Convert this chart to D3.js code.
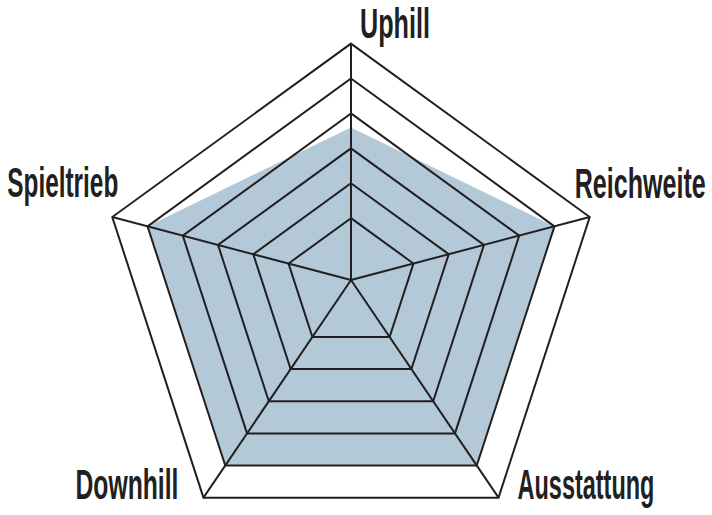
<!DOCTYPE html>
<html>
<head>
<meta charset="utf-8">
<script src="https://cdn.jsdelivr.net/npm/d3@7"></script>
<style>
  html, body { margin: 0; padding: 0; background: #fff; }
  svg { display: block; }
</style>
</head>
<body>
<svg id="chart" width="712" height="515"></svg>
<script>
// ---- data ----
const categories = ["Uphill", "Reichweite", "Ausstattung", "Downhill", "Spieltrieb"];
const values = [3.6, 5, 5, 5, 5];
const levels = [1, 2, 3, 4, 5, 6];

// ---- layout ----
const W = 712, H = 515;
const cx = 351, cy = 294.6, R = 251;   // outer pentagon
const hubY = 280;                      // where the spokes meet
const ink = "#231f20";
const fillColor = "#b3c9d8";

// label placement relative to each outer vertex
const labelLayout = [
  { anchor: "start", dx: 9,   dy: -6,  len: 70 },
  { anchor: "start", dx: -15, dy: -19, len: 131 },
  { anchor: "start", dx: 19,  dy: 1,   len: 137 },
  { anchor: "end",   dx: -25, dy: 1,   len: 103 },
  { anchor: "end",   dx: 6,   dy: -20, len: 111 }
];

const svg = d3.select("#chart");

// angle of each axis (regular pentagon, first axis pointing up)
const angle = d3.scaleLinear().domain([0, categories.length]).range([0, 2 * Math.PI]);
const outer = categories.map((c, i) => ({
  x: cx + R * Math.sin(angle(i)),
  y: cy - R * Math.cos(angle(i))
}));
const hub = { x: cx, y: hubY };

// radial fraction along each spoke (hub -> outer vertex)
const t = d3.scaleLinear().domain([0, d3.max(levels)]).range([0.114, 1]);

function pointAt(i, v) {
  const f = t(v);
  return [hub.x + f * (outer[i].x - hub.x), hub.y + f * (outer[i].y - hub.y)];
}

const line = d3.line().curve(d3.curveLinearClosed);

// filled data polygon
svg.append("path")
  .attr("d", line(values.map((v, i) => pointAt(i, v))))
  .attr("fill", fillColor)
  .attr("stroke", "none");

// grid rings
svg.append("g").selectAll("path")
  .data(levels)
  .join("path")
  .attr("d", lv => line(categories.map((c, i) => pointAt(i, lv))))
  .attr("fill", "none")
  .attr("stroke", ink)
  .attr("stroke-width", 2)
  .attr("stroke-linejoin", "miter")
  .attr("stroke-miterlimit", 10);

// spokes
svg.append("g").selectAll("line")
  .data(categories)
  .join("line")
  .attr("x1", hub.x)
  .attr("y1", hub.y)
  .attr("x2", (c, i) => outer[i].x)
  .attr("y2", (c, i) => outer[i].y)
  .attr("stroke", ink)
  .attr("stroke-width", 2);

// labels: condensed by a horizontal scale so the real box matches
const labels = svg.append("g").selectAll("g")
  .data(categories)
  .join("g");

labels.append("text")
  .attr("text-anchor", "start")
  .attr("font-family", "'Liberation Sans Narrow', 'Liberation Sans', Arial, sans-serif")
  .attr("font-weight", "bold")
  .attr("font-size", 43)
  .attr("fill", ink)
  .text(c => c);

labels.each(function(c, i) {
  const g = d3.select(this);
  const natural = g.select("text").node().getComputedTextLength();
  const L = labelLayout[i];
  const sx = L.len / natural;
  const ax = outer[i].x + L.dx;
  const left = L.anchor === "end" ? ax - L.len : ax;
  g.attr("transform", `translate(${left},${outer[i].y + L.dy}) scale(${sx},1)`);
});
</script>
</body>
</html>
